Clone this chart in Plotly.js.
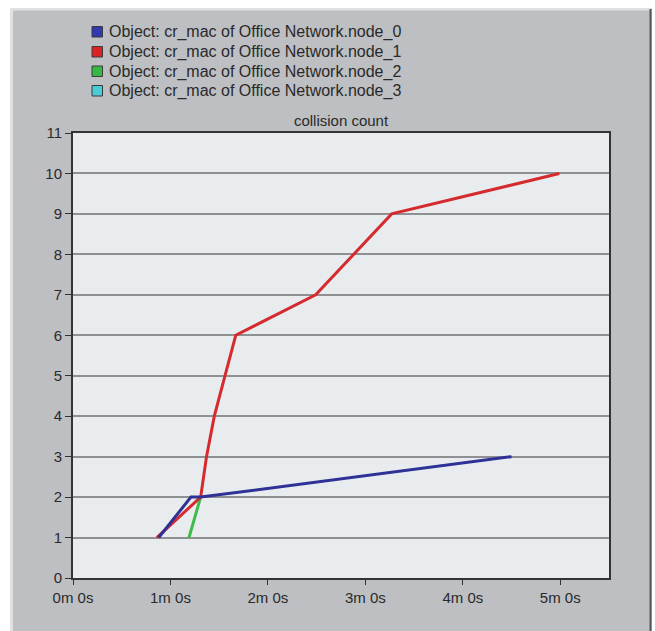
<!DOCTYPE html>
<html>
<head>
<meta charset="utf-8">
<script src="https://cdn.plot.ly/plotly-3.0.1.min.js"></script>
<style>html,body{margin:0;padding:0;background:#fff;}#chart{width:655px;height:631px;}</style>
</head>
<body>
<div id="chart"></div>
<script>
// time in minutes, values = collision count
var seriesNames = [
  "Object: cr_mac of Office Network.node_0",
  "Object: cr_mac of Office Network.node_1",
  "Object: cr_mac of Office Network.node_2",
  "Object: cr_mac of Office Network.node_3"
];
var node0_t = [0.88, 1.21, 1.31, 4.50];
var node0_v = [1, 2, 2, 3];
var node1_t = [0.86, 1.31, 1.37, 1.45, 1.56, 1.67, 2.49, 3.27, 4.99];
var node1_v = [1, 2, 3, 4, 5, 6, 7, 9, 10];
var node2_t = [1.19, 1.31];
var node2_v = [1, 2];
var node3_t = [];
var node3_v = [];
var xTickVals = [0, 1, 2, 3, 4, 5];
var xTickText = ["0m 0s", "1m 0s", "2m 0s", "3m 0s", "4m 0s", "5m 0s"];
var yTickVals = [0,1,2,3,4,5,6,7,8,9,10,11];

var lineColors = ["#2e3196", "#d62b2e", "#3dbb4a", "#3cc6d4"];
var markColors = ["#3338b0", "#dd2226", "#36b846", "#48ccd6"];
var ts = [node0_t, node1_t, node2_t, node3_t];
var vs = [node0_v, node1_v, node2_v, node3_v];

var traces = [];
// draw order: cyan, green, red, blue on top
[3, 2, 1, 0].forEach(function(i){
  traces.push({x: ts[i], y: vs[i], type: "scatter", mode: "lines", name: seriesNames[i],
    line: {color: lineColors[i], width: 3}, showlegend: false, hoverinfo: "skip"});
});

function px(p){ return (p - 73) / 536; }
function py(p){ return (578 - p) / 445; }

var shapes = [
  {type: "rect", xref: "paper", yref: "paper", x0: px(-5), x1: px(660), y0: py(-5), y1: py(8.5), fillcolor: "#ffffff", line: {width: 0}, layer: "above"},
  {type: "rect", xref: "paper", yref: "paper", x0: px(-5), x1: px(10.5), y0: py(-5), y1: py(640), fillcolor: "#ffffff", line: {width: 0}, layer: "above"},
  {type: "rect", xref: "paper", yref: "paper", x0: px(652), x1: px(660), y0: py(-5), y1: py(640), fillcolor: "#ffffff", line: {width: 0}, layer: "above"},
  {type: "line", xref: "paper", yref: "paper", x0: px(12), x1: px(12), y0: py(9), y1: py(631), line: {color: "#dfe1e3", width: 2}, layer: "above"},
  {type: "line", xref: "paper", yref: "paper", x0: px(11), x1: px(651), y0: py(9.5), y1: py(9.5), line: {color: "#dfe1e3", width: 2}, layer: "above"},
  {type: "line", xref: "paper", yref: "paper", x0: px(650.5), x1: px(650.5), y0: py(9), y1: py(631), line: {color: "#55575a", width: 2}, layer: "above"}
];
var annotations = [];
var rowY = [32, 52, 71.5, 91];
for (var i = 0; i < 4; i++) {
  shapes.push({type: "rect", xref: "paper", yref: "paper", x0: px(92), x1: px(102.5), y0: py(rowY[i] + 5), y1: py(rowY[i] - 5.5),
    fillcolor: markColors[i], line: {color: "#3a3a3a", width: 1}, layer: "above"});
  annotations.push({text: seriesNames[i], xref: "paper", yref: "paper", x: px(107), y: py(rowY[i]),
    xanchor: "left", yanchor: "middle", showarrow: false, font: {size: 16, color: "#2a2a2a"}});
}

var layout = {
  width: 655, height: 631,
  margin: {l: 73, r: 46, t: 133, b: 53},
  paper_bgcolor: "#bdbfc3",
  plot_bgcolor: "#e9ecef",
  showlegend: false,
  font: {family: "Liberation Sans, Arial, sans-serif", size: 14, color: "#2a2a2a"},
  title: {text: "collision count", font: {size: 15, color: "#2a2a2a"},
    x: 0.5, xref: "paper", xanchor: "center", y: 1 - 121/631, yref: "container", yanchor: "middle"},
  xaxis: {range: [0, 5.5], tickvals: xTickVals, ticktext: xTickText, showgrid: false, zeroline: false,
    showline: true, linecolor: "#333", linewidth: 2, mirror: true,
    ticks: "outside", ticklen: 5, tickcolor: "#333", tickwidth: 1, tickfont: {size: 15}},
  yaxis: {range: [0, 11], tickvals: yTickVals, showgrid: true, gridcolor: "#8e9092", gridwidth: 2, zeroline: false,
    showline: true, linecolor: "#333", linewidth: 2, mirror: true,
    ticks: "outside", ticklen: 6, tickcolor: "#333", tickwidth: 1, tickfont: {size: 15}},
  shapes: shapes,
  annotations: annotations
};

Plotly.newPlot("chart", traces, layout, {displayModeBar: false, staticPlot: true});
</script>
</body>
</html>
